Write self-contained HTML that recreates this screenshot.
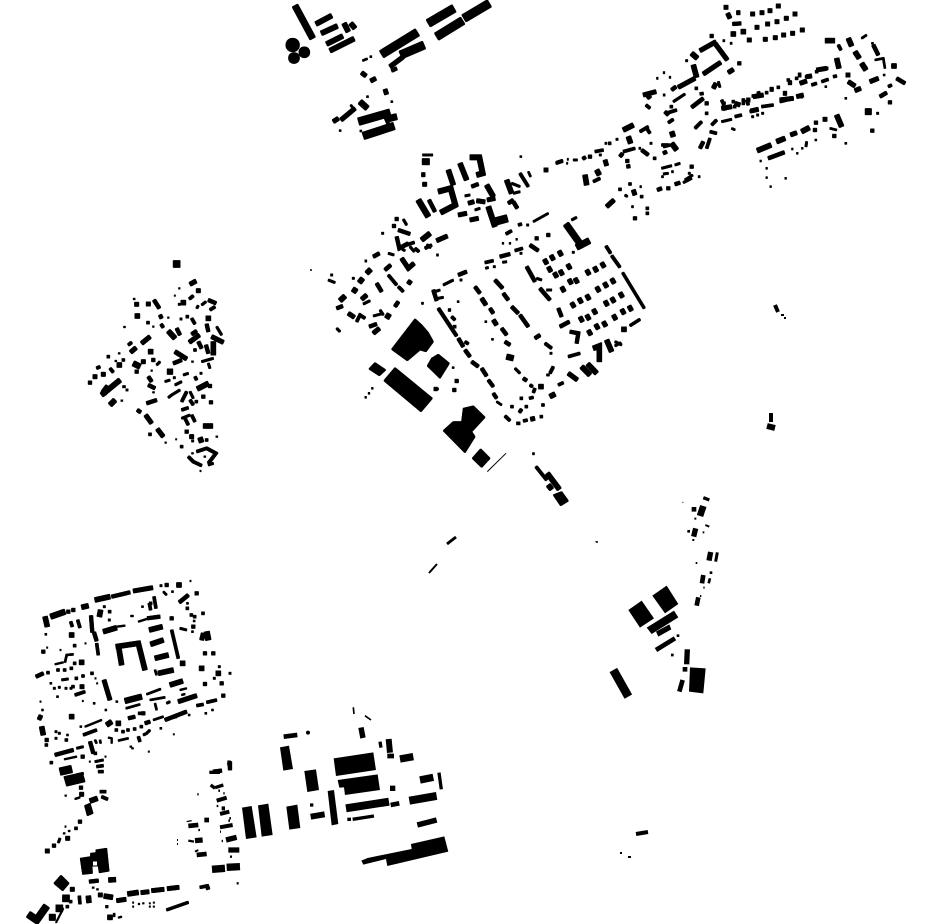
<!DOCTYPE html>
<html><head><meta charset="utf-8"><style>
html,body{margin:0;padding:0;background:#fff;width:930px;height:924px;overflow:hidden}
svg{display:block}
path{fill:none;stroke:#000}
</style></head><body>
<svg width="930" height="924" viewBox="0 0 930 924" xmlns="http://www.w3.org/2000/svg">
<defs><g id="a">

<g transform="translate(280 0) scale(.3333)">
<path stroke-width="18" d="M45 17L98 115"/>
<path stroke-width="14" d="M108 72L155 47M124 100L172 78M140 132L188 108M150 152L222 116M192 70L205 95M212 70L225 85M505 510L520 555M540 490L560 540M620 555L640 590M680 540L695 580"/>
<circle cx="38" cy="135" r="20"/><circle cx="73" cy="157" r="16"/><circle cx="42" cy="174" r="16"/>
<path stroke-width="24" d="M305 163L412 97M445 70L522 25M470 110L548 62M552 55L628 10M362 165L432 135"/>
<path stroke-width="12" d="M330 200L370 170M245 218L258 228M272 243L287 235M315 268L320 283M160 365L175 355M183 360L225 325"/>
<path stroke-width="10" d="M335 212L350 205M685 610L700 600M700 605L712 625M447 600L465 635M575 560L595 552"/>
<path stroke-width="16" d="M240 305L262 325M415 600L445 650"/>
<path stroke-width="22" d="M236 365L330 338M250 408L342 378"/>
<path stroke-width="18" d="M322 357L350 350M427 485L448 485"/>
<path stroke-width="8" d="M315 350L325 372M828 490L848 483M720 520L745 560"/>
<path stroke-width="5" d="M248 182L262 176M270 170h5M260 290h5M333 305h5M178 392h5M240 393h5M720 470h5M745 515L752 530M212 315L218 322"/>
<path stroke-width="6" d="M428 465L458 465M555 588L570 585M585 630L600 625M695 550L720 560M700 580L720 575"/>
<path stroke-width="12" d="M425 524h10M428 553h12M565 610L582 605M590 602L615 606M622 600L645 595M535 645L560 640M570 660L595 655"/>
<path stroke-width="15" d="M570 472L598 472L608 520L590 525M475 575L512 565L526 615L482 638M625 620L645 680"/>
<path stroke-width="22" d="M645 665L682 655"/>
</g>

<g transform="translate(320 210) scale(.3333)">
<polygon points="285,327 305,345 325,368 340,395 318,425 300,420 262,452 215,418"/>
<polygon points="355,433 388,460 360,505 345,490 322,468 335,445"/>
<polygon points="165,458 197,480 178,497 147,477"/>
<polygon points="225,473 337,565 303,605 192,512"/>
<polygon points="460,588 495,622 455,665 465,680 435,728 370,662 400,635 425,635 430,595"/>
<polygon points="482,717 510,745 485,772 457,745"/>
<polygon points="700,855 725,845 745,873 722,887"/>
<path stroke-width="8" d="M648 770L680 810M858 108L872 130M875 137L900 172"/>
<path stroke-width="7" d="M908 188L973 295M930 347L960 328"/>
<path stroke-width="14" d="M682 790L718 838M685 825L695 838M905 358h14M820 415L838 408L838 455M860 390L875 425M785 470L810 495M803 462L830 490"/>
<path stroke-width="18" d="M738 42L785 108M770 112L808 92"/>
<path stroke-width="6" d="M755 30L770 22M885 395L905 405M885 408L903 398M638 731h5"/>
<path stroke-width="12" d="M673 148l8 14M693 136l8 14M717 123l8 14M685 171l8 14M703 188l8 14M720 181l8 14M743 163l8 14M725 231l8 14M747 208l8 14M765 205l8 14M800 180l8 14M823 171l8 14M845 158l8 14M755 278l8 14M777 265l8 14M800 255l8 14M830 231l8 14M853 218l8 14M875 206l8 14M780 321l8 14M800 315l8 14M820 298l8 14M855 273l8 14M875 263l8 14M900 248l8 14M805 361l8 14M827 343l8 14M850 335l8 14M880 315l8 14M905 298l8 14M927 288l8 14"/>
<path stroke-width="10" d="M225 27h10M217 48h10M235 60L270 72M230 80L238 115L265 100M160 140L178 130M195 180L212 165M170 220L185 245M148 350L170 342M50 295L68 288M225 290L235 275"/>
<path stroke-width="14" d="M305 90L330 70M140 190L152 178M118 218L128 205M100 247L108 235M60 272L75 258M200 325L208 312"/>
<path stroke-width="12" d="M350 92L382 78M245 145L265 175L282 160M265 222L272 212M125 268L140 255M85 310L103 322M160 370L178 355"/>
<path stroke-width="8" d="M245 110L283 97M320 105L333 112M315 115L335 105M205 195L230 225M235 230L250 245M110 335L120 315L135 325M285 115L297 125"/>
<path stroke-width="6" d="M250 28L260 45M270 110L283 125M247 118L255 122M205 130L222 135M185 70h6M97 205h6M350 135h5M130 282L150 272M180 300L190 315M160 318L190 310M25 210L45 218M32 195h6M305 280h5M135 153h5M50 355L60 365"/>
<path stroke-width="10" d="M340 240L350 272M415 195L440 185M415 385L430 410M435 420L450 440M455 455L475 470M485 475L500 498M465 230L480 250M510 295L520 310M545 355L560 375M555 395L570 405M610 505L620 512M525 210L548 235M550 250L565 270M575 290L595 310M600 315L625 350M645 385L660 375M620 170L645 215M660 235L690 270M715 295L725 320M720 350L748 335M750 365L775 370L770 400M630 105L655 122M645 85h10M680 75h10M540 140L570 132"/>
<path stroke-width="9" d="M355 295L410 378M505 510L520 530M520 550L530 565"/>
<path stroke-width="12" d="M485 265L498 285M520 330L530 345M745 490L772 510M598 600L605 605M632 628L644 625"/>
<path stroke-width="16" d="M560 440L580 445"/>
<path stroke-width="14" d="M690 560L705 552M656 530h14"/>
<path stroke-width="8" d="M555 618L570 632M572 590h8M610 633L622 630M660 620h8M630 525L638 530M675 400L695 415M690 490L700 470M495 158L520 152M585 122L608 115M558 72L575 62M595 45L605 42M745 440L780 430M385 300h7M395 320L405 330M400 350h8M435 395L445 402M600 565h8M615 590h8M628 565L640 562M640 548L645 535M715 525L730 518M665 585h8M590 640h10"/>
<path stroke-width="6" d="M345 245L360 240M355 265L370 262M370 225L400 210M420 210h6M497 175L505 172M520 170h6M548 157L560 155M600 130h6M650 205L665 210M680 240L695 240M757 127h6M585 475L600 490M345 537h10M620 45h6M690 430h6M680 495h8"/>
<path stroke-width="5" d="M640 35L685 10M547 100h4M568 100h4M588 88h4M495 335h5M515 388h5M412 275h5M530 575L545 585M135 562h4M145 550h4M155 535h4M397 473h5"/>
<path stroke-width="10" d="M405 513h10M398 540h10M342 537h10"/>
</g>

<g transform="translate(540 0) scale(.3333)">
<path stroke-width="12" d="M552 22h12M563 40L570 55M590 38h10M632 42h12M660 38h12M684 32h12M709 18h12M759 42h12M645 82h12M677 72h12M705 65h12M733 55h12M622 120h12M670 118h12M700 113h12M725 105h12M752 100h12M781 90h12M480 152L528 125M525 130L562 180M490 222L542 187M415 262L465 235M565 218L580 208M310 285L348 275M318 280L330 295M520 265L528 250M930 225h-12M925 245L945 258M945 272L962 265M990 245L1015 235"/>
<path stroke-width="10" d="M578 72L603 70M510 108h10M593 190h10M408 260L395 270M375 335L385 345M455 322L490 295M495 310h10M1000 135L1015 165M1070 235L1095 250M1020 290L1040 278M1045 307h10M480 445L490 425M992 392h10"/>
<path stroke-width="14" d="M573 102h14M603 95h14M460 195L470 232M455 160L472 175M856 122h28M925 115L935 138M945 155L958 175M965 190L978 210M890 175L897 205M1055 198h14M395 395L400 410M395 430L410 450"/>
<path stroke-width="6" d="M535 245L540 262M400 305L435 282M437 182h6M549 122h5M571 130h5M350 235h4M370 218h4M388 232h4M545 365L575 358M635 350h6M650 345h6M665 340h6M370 285h5"/>
<path stroke-width="8" d="M318 315L330 325M385 338L410 330M390 320h8M465 265h8M480 282L490 280M496 340h8M385 368L400 358M465 385L485 365M515 375L530 360M585 350L605 345M510 395L530 400M500 445L510 415M895 135L903 150M1045 260L1055 255M370 440L390 435M365 435L385 435"/>
<path stroke-width="8" d="M548 310h8M576 305h8M606 300h8M636 288h8M651 282h8M676 278h8M711 262h8M741 240h8M766 235h8M796 230h8M826 215h8M856 205h8M550 328L570 322M580 320h8M606 310h8M630 335L650 330M665 320L700 315M720 305L760 295M780 290h8M815 255L830 250M845 245L865 238M880 230L890 228M545 300L552 315M620 300L625 315M655 275L660 290"/>
<path stroke-width="12" d="M545 325L575 320M585 310L600 315M640 290L670 285M830 210L860 205M632 333L655 328M720 300L760 295M770 290L790 285M800 230L815 228M690 268h10M745 248h10M775 225h8M780 250L800 243M730 280h10M620 300h10"/>
<path stroke-width="5" d="M855 260h5M575 385L585 390M1030 225h5M995 130h5M965 115L980 105M1005 180L1030 175L1035 205M915 295h5M870 385L890 390M825 420h5M915 430h5M660 483h4M678 505h4M678 533h4M690 560h4M735 535h4M755 447h4M770 460h4M785 445h4"/>
<path stroke-width="18" d="M976 335h18"/>
<path stroke-width="6" d="M1010 340h6M800 425L798 440"/>
<path stroke-width="14" d="M652 452L693 435M710 425L735 415M785 395L808 383M890 345L905 380"/>
<path stroke-width="12" d="M752 405L770 398M849 358h12"/>
<path stroke-width="10" d="M685 475L733 457M823 368h10M820 390h10M878 408h10"/>
<path stroke-width="12" d="M12 510h12M200 620L222 600M280 570L285 585M195 480L200 497"/>
<path stroke-width="14" d="M250 390L280 375M265 410L272 430M135 525L140 555M170 510L178 525"/>
<path stroke-width="8" d="M50 488L68 482M165 455L190 450M205 430h8M300 395L325 380M318 382L330 400M250 455L285 445M340 475h8M160 545L180 535M236 568h8M266 552h8M301 590h8M318 625h8M318 640h8"/>
<path stroke-width="10" d="M130 470L135 478M145 470h10M240 470L248 460M305 450L325 465M370 460L380 455M260 500L270 498M257 483h10M352 570L365 565M380 565h10M405 553L420 548M450 500h10M280 655h10"/>
<path stroke-width="6" d="M100 480L112 480M82 478h3M80 490h3M195 430h5M228 418h6M330 430h6M178 465h6M297 445h5M300 560h4M275 620h5M435 540L458 525M430 548L455 535M475 530h5M365 505L395 497M405 495L420 490M370 522L385 520M395 515h5M365 530h5M445 520h6M255 585L262 590"/>
</g>

<g transform="translate(80 255) scale(.3333)">
<path stroke-width="20" d="M280 27h20"/>
<path stroke-width="12" d="M330 88L348 78M349 107h12M164 148h12M199 147h12M243 215L250 210M328 262L358 240M185 265L210 245M152 292L168 278M184 320h12M39 365h12M64 358h12M395 245L430 262M285 290L320 312M197 480L215 505M232 522L250 545"/>
<path stroke-width="14" d="M303 143h14M165 183h14M378 190h14M265 228L285 250M205 290h14M111 330h14M352 402L385 385M65 420L120 375M90 450L105 435M370 513L398 513M360 548L365 562M400 260L400 300"/>
<path stroke-width="18" d="M70 415L85 395"/>
<path stroke-width="16" d="M160 325L180 335M262 350h16"/>
<path stroke-width="10" d="M222 135L238 160M385 135L408 145M240 180L245 190M290 220L300 240M350 228L335 238M380 207L385 230M355 260L365 280M378 270L385 295M215 315h10M165 350h10M25 383h10M280 325L305 315M205 365L215 380M205 390L225 400M200 445L230 435M385 393h10M365 425h10M388 442h10M172 465L182 472M315 530h10"/>
<path stroke-width="8" d="M390 165L405 155M328 132L340 122M200 203h8M318 185h8M335 190L345 207M341 285h8M145 270L155 262M81 305h8M50 340L60 335M90 340L100 352M126 315h8M345 365L350 375M305 440L320 410M345 440h8M330 435L340 450M305 465L325 458M315 490L325 510M335 480L345 500M206 538h8M301 575h8M376 555h8M325 605L340 620L365 632M350 590L380 580L408 595L385 625"/>
<path stroke-width="6" d="M295 148h6M365 150L378 140M350 160L355 152M230 330L240 320M300 192h6M255 380L270 375M280 368h6M285 390L305 380M310 360L325 355M360 355h6M265 428L275 420L300 405M330 410L340 430M305 490L330 480M335 558h6M385 630L400 625M410 215L425 240M365 320L400 310M385 325L390 340M128 395h8M138 405h6"/>
<path stroke-width="4" d="M296 100h4M283 122h3M160 132h5M263 188h4M131 216h5M218 215h4M115 295h5M105 318h5M335 320h5M213 347h4M123 437h5M218 412h5M255 563h4M408 545h5M287 553h3M372 605h5M335 595h5M360 648h3"/>
<path stroke-width="12" d="M329 545h12"/>
</g>

<g transform="translate(30 575) scale(.3333)">
<path stroke-width="14" d="M195 75L240 65M155 97L175 92M45 125L52 155M212 105L208 125M440 30h14M220 170L260 158M358 165L397 155M362 208L400 195M375 250L415 240M385 295L430 285M258 215L325 205L345 285M265 210L275 270M458 258L458 272M515 273L515 287M565 288L565 302M420 330L458 318M25 425L35 430M35 455L40 480M118 425h14M118 180h14M258 445h14M155 255L155 269M230 450L245 440"/>
<path stroke-width="10" d="M245 65L300 52M352 130L390 125M183 122L187 172M192 172L200 198M110 110h10M125 105h10M405 30h10M448 82L475 60M495 55h10M420 130h10M485 155h10M520 235h10M545 235h10M570 325h10M520 327h10M295 430L315 425M335 415h10M405 435L470 410M345 445L360 440M180 500L190 535M75 540L130 525M153 545h10M575 362h10M45 495h10M550 590L575 587"/>
<path stroke-width="12" d="M310 48L368 38M222 315L240 375M445 380L500 362M150 335h12"/>
<path stroke-width="16" d="M62 125L105 110M285 378L335 365M530 170L535 195"/>
<path stroke-width="12" d="M520 175L515 195"/>
<path stroke-width="8" d="M122 140L127 155M143 135L150 158M200 205L205 240M372 65L378 100M358 85L362 105M468 100h8M480 120h8M490 125h8M515 115h8M425 165L445 250M130 212h8M130 265h8M50 293h8M80 285h8M100 285h8M120 280h8M155 303h8M182 295h8M135 310h8M125 335h8M135 360L165 350M500 392L520 388M530 382L560 375M325 415h8M160 480L200 465M105 495h8M45 510h8M255 465h8M275 470h8M290 465h8M310 462h8M330 455h8M325 485L330 500M192 535h8M200 575L220 572M205 590L220 590M60 563h8M235 110h8M358 85h8"/>
<path stroke-width="6" d="M220 95h6M390 32h6M235 135h6M450 160L470 165M565 275h6M597 295h6M550 310h6M140 520L160 515M95 315L115 312M410 385L420 380M340 480L350 475L360 465M75 490h6M195 560L220 555M140 600L160 595"/>
<path stroke-width="5" d="M400 50L410 60M425 50h5M335 95h5M470 85h5M490 138h5M45 178h5M105 262L110 240L130 238M485 170h5M350 358L392 342M360 375L405 367M288 400L330 388M375 285L380 300M375 385L380 405M258 380h5M190 385h5M35 405h5M225 405h5M370 435L400 425M265 497L295 490M475 420h5M390 460h5M545 405h5M525 415h5M60 325h5M80 365h5M150 455h5M110 480h5M195 495L200 505M210 495L212 505"/>
<path stroke-width="4" d="M302 123h8M480 18h3M75 268L100 262M165 205h3M90 225h3M50 218h3M195 310h3M200 325h3M157 378h3M30 380h3M430 478h3M165 455L215 435M235 488L245 490L245 505M450 345L470 340M455 360L465 357M103 553L140 545M355 530h3M178 560h3M225 545h3M262 155L285 152M325 140L350 132M300 515h5M305 520h5"/>
<path stroke-width="10" d="M35 230h10M18 305L40 295M600 560L600 585"/>
<path stroke-width="22" d="M90 590L125 582"/>
<path stroke-width="6" d="M70 340h6M85 337h6M105 340h6M120 340h6M75 470h6M85 475h6M420 430L440 425"/>
</g>

<g transform="translate(0 770) scale(.3333)">
<polygon points="192,20 247,8 255,35 200,48"/>
<polygon points="254,107 270,100 279,130 262,137"/>
<polygon points="241,265 272,260 272,250 288,248 288,240 320,235 327,303 298,308 295,288 276,288 277,310 248,313"/>
<polygon points="183,316 207,340 188,362 162,340"/>
<path stroke-width="10" d="M238 53h10M268 335L295 332M235 155h10M157 227h10"/>
<path stroke-width="12" d="M239 73h12M197 205h12M136 243h12M295 375h12M350 392L378 388M423 368L447 365M455 362L492 358M502 356L537 352M211 358h12"/>
<path stroke-width="14" d="M270 93L292 85M326 330L347 329M312 378L338 382M265 378L267 398M383 372L415 367M323 442h14"/>
<path stroke-width="20" d="M85 433L110 450L140 408"/>
<path stroke-width="20" d="M188 385h20M168 415h20"/>
<path stroke-width="18" d="M148 442h18"/>
<path stroke-width="8" d="M224 175h8M300 65L318 65M305 80L323 88M238 378L240 402M208 395h8M198 410h8"/>
<path stroke-width="4" d="M195 77h4M225 87L240 82M195 170h3M205 183h5M190 190h5M277 353h5M290 358h5M398 398h3M398 410h3M415 402h4M428 400h4M448 400h3M460 398h3M448 410h3M460 410h3M355 443L365 440"/>
<path stroke-width="6" d="M175 218L180 205"/>
<path stroke-width="3" d="M190 415L168 458"/>
<path stroke-width="7" d="M500 420L565 397M317 410h7"/>
<path stroke-width="8" d="M600 352L625 347"/>
<path stroke-width="10" d="M620 345L625 358M340 435h5"/>
</g>

</g></defs>

<use href="#a" transform="translate(-.45 -.45)"/>
<use href="#a" transform="translate(.45 -.45)"/>
<use href="#a" transform="translate(-.45 .45)"/>
<use href="#a" transform="translate(.45 .45)"/>
<rect x="93" y="861.5" width="4" height="4" fill="#fff"/>

<g transform="translate(320 210) scale(.3333)">
<path stroke-width="3" d="M502 785L558 730"/>
</g>

<g transform="translate(170 700) scale(.3333)">
<polygon points="565,84 581,81 587,112 571,116"/>
<polygon points="330,142 357,137 369,207 340,212"/>
<polygon points="403,213 438,208 447,270 412,276"/>
<polygon points="491,175 610,157 618,210 498,228"/>
<polygon points="503,240 623,223 630,270 525,285 522,262 508,263"/>
<polygon points="473,273 492,270 505,372 485,376"/>
<polygon points="216,323 245,318 260,412 228,417"/>
<polygon points="264,316 295,311 308,405 275,410"/>
<polygon points="349,320 382,314 391,384 358,389"/>
<polygon points="723,432 823,409 835,455 652,498 648,477 580,494 574,482 593,474 725,447"/>
<circle cx="414" cy="98" r="6"/>
<path stroke-width="14" d="M341 110L382 105M652 168L672 168M662 315L688 310"/>
<path stroke-width="5" d="M550 22L552 42M585 47L603 60"/>
<path stroke-width="10" d="M630 125L633 143M807 218L814 268M420 315h10M532 358h11M548 358L612 348"/>
<path stroke-width="18" d="M656 117L660 158M422 350L464 343"/>
<path stroke-width="22" d="M690 177L730 170M750 240L790 232M126 508L165 505M170 502L210 500"/>
<path stroke-width="16" d="M660 265h16M742 375L800 360"/>
<path stroke-width="24" d="M528 325L657 305M718 302L800 288"/>
<path stroke-width="9" d="M175 188L180 210"/>
<path stroke-width="10" d="M118 217L150 217M122 255L135 265M135 263L160 255"/>
<path stroke-width="7" d="M145 272h5M160 280h4M82 283h4M140 318h5M150 395h3M172 185h11M178 355h5M175 362h5M85 390h5M155 423h4M55 422L72 425M180 470h6M200 550h6"/>
<path stroke-width="12" d="M140 302L170 293M150 342L178 335M150 382L188 375M155 325h10"/>
<path stroke-width="16" d="M168 420L200 412M175 450L208 450"/>
<path stroke-width="14" d="M103 360h14M55 378L85 375M80 465L110 462"/>
<path stroke-width="4" d="M50 365L65 362"/>
<path stroke-width="16" d="M75 422L98 420"/>
<path stroke-width="6" d="M75 455L85 450M21 420h3M21 432h3"/>
</g>

<g transform="translate(590 490) scale(.3333)">
<polygon points="155,332 192,385 150,413 115,360"/>
<polygon points="230,287 265,342 225,370 187,317"/>
<polygon points="170,413 252,362 265,382 185,432"/>
<polygon points="198,425 238,403 244,418 205,440"/>
<polygon points="300,532 347,535 340,610 297,605"/>
<path stroke-width="14" d="M198 480L255 445M278 570L268 605M278 538h14M305 58h14M340 255L336 280M325 322L320 347"/>
<path stroke-width="8" d="M260 437h8M243 495h8M292 124h8M359 248h8M360 265L356 280"/>
<path stroke-width="16" d="M292 478L290 523M317 115L311 140M362 186L357 212"/>
<path stroke-width="26" d="M70 540L115 620"/>
<path stroke-width="10" d="M340 23L358 30"/>
<path stroke-width="20" d="M340 48L330 78"/>
<path stroke-width="9" d="M382 187L377 215"/>
<path stroke-width="6" d="M313 86h6M346 105L358 110M338 127h5M307 150h6M317 219h5M340 293h4M330 318h4"/>
<path stroke-width="3" d="M277 37h3M16 155h3"/>
</g>

<path stroke-width="3" d="M447 544L456 537"/>
<path stroke-width="2" d="M429 573L437 564"/>
<path stroke-width="1.5" d="M596 542h2M310 270h2"/>
<path stroke-width="4" d="M775 305L778 312M636 834L648 832"/>
<path stroke-width="2" d="M781 315h3M784 318h2M620 853h2M628 857h3"/>
<path stroke-width="4" d="M771 413L771 422"/>
<path stroke-width="6" d="M767 426L775 428"/>
</svg>
</body></html>
